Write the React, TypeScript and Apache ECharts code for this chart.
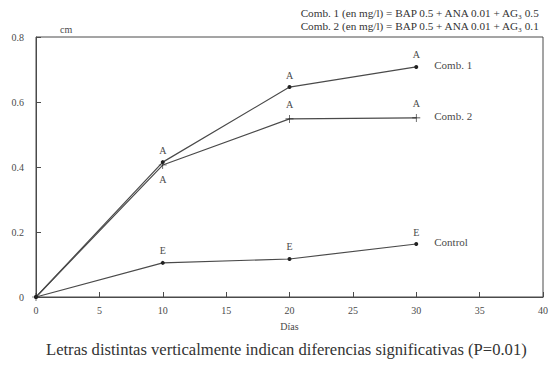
import React, { useEffect, useRef } from "react";
import * as echarts from "echarts";

const days = [0, 10, 20, 30];
const comb1 = [0, 0.415, 0.646, 0.708];
const comb2 = [0, 0.406, 0.548, 0.551];
const control = [0, 0.105, 0.117, 0.163];
const comb1Letters = ["", "A", "A", "A"];
const comb2Letters = ["", "A", "A", "A"];
const controlLetters = ["", "E", "E", "E"];
const seriesNames = ["Comb. 1", "Comb. 2", "Control"];
const xTicks = [0, 5, 10, 15, 20, 25, 30, 35, 40];
const yTicks = [0, 0.2, 0.4, 0.6, 0.8];
const legendLine1 = "Comb. 1 (en mg/l) = BAP 0.5 + ANA 0.01 + AG\u2083 0.5";
const legendLine2 = "Comb. 2 (en mg/l) = BAP 0.5 + ANA 0.01 + AG\u2083 0.1";
const caption = "Letras distintas verticalmente indican diferencias significativas (P=0.01)";

const FONT = "Liberation Serif";
const INK = "#4a4a4a";

function buildData(vals: number[], letters: string[], belowIdx: number[] = []) {
  return days.map((d, i) => ({
    value: [d, vals[i]],
    label: {
      show: letters[i] !== "",
      formatter: letters[i],
      position: belowIdx.includes(i) ? "bottom" : "top",
      distance: 5,
      fontFamily: FONT,
      fontSize: 10,
      color: INK,
    },
  }));
}

export default function App() {
  const ref = useRef<HTMLDivElement>(null);
  useEffect(() => {
    if (!ref.current) return;
    const chart = echarts.init(ref.current, undefined, { renderer: "svg" });
    const plus = "path://M-0.4,-5h0.8v4.6h4.6v0.8h-4.6v4.6h-0.8v-4.6h-4.6v-0.8h4.6z";
    const mk = (name: string, vals: number[], letters: string[], symbol: string, size: number, below: number[] = []) => ({
      type: "line",
      name,
      data: buildData(vals, letters, below),
      symbol,
      symbolSize: size,
      showSymbol: true,
      lineStyle: { color: INK, width: 1.2 },
      itemStyle: { color: "#222" },
      endLabel: {
        show: true,
        formatter: name,
        distance: 18,
        fontFamily: FONT,
        fontSize: 11,
        color: INK,
        offset: [0, -2],
      },
    });
    chart.setOption({
      animation: false,
      backgroundColor: "#fff",
      textStyle: { fontFamily: FONT },
      grid: {
        left: 36,
        right: 12,
        top: 37,
        bottom: 69,
        show: true,
        borderColor: INK,
        borderWidth: 1,
        backgroundColor: "transparent",
      },
      xAxis: {
        type: "value",
        min: xTicks[0],
        max: xTicks[xTicks.length - 1],
        interval: 5,
        name: "Días",
        nameLocation: "middle",
        nameGap: 24,
        nameTextStyle: { fontFamily: FONT, fontSize: 10, color: INK },
        axisLine: { lineStyle: { color: INK, width: 1 } },
        axisTick: { inside: true, length: 5, lineStyle: { color: INK } },
        axisLabel: { fontFamily: FONT, fontSize: 10, color: INK, margin: 8 },
        splitLine: { show: false },
      },
      yAxis: {
        type: "value",
        min: yTicks[0],
        max: yTicks[yTicks.length - 1],
        interval: 0.2,
        name: "cm",
        nameLocation: "end",
        nameGap: 3,
        nameTextStyle: { fontFamily: FONT, fontSize: 10, color: INK, align: "left", padding: [0, 0, 0, 24] },
        axisLine: { lineStyle: { color: INK, width: 1 } },
        axisTick: { inside: true, length: 5, lineStyle: { color: INK } },
        axisLabel: {
          fontFamily: FONT,
          fontSize: 10,
          color: INK,
          margin: 12,
          formatter: (v: number) => (v === 0 ? "0" : v.toFixed(1)),
        },
        splitLine: { show: false },
      },
      series: [
        mk(seriesNames[0], comb1, comb1Letters, "circle", 4),
        mk(seriesNames[1], comb2, comb2Letters, plus, 8, [1]),
        mk(seriesNames[2], control, controlLetters, "circle", 4),
      ],
      graphic: [
        {
          type: "text",
          right: 14,
          top: 7,
          style: {
            text: legendLine1 + "\n" + legendLine2,
            fontFamily: FONT,
            fontSize: 11.2,
            lineHeight: 12.5,
            fill: "#333",
            align: "right",
          },
        },
        {
          type: "text",
          left: 46,
          top: 341,
          style: {
            text: caption,
            fontFamily: FONT,
            fontSize: 16.6,
            fill: "#333",
          },
        },
      ],
    });
    return () => chart.dispose();
  }, []);
  return <div ref={ref} style={{ width: 555, height: 366, position: "absolute", left: 0, top: 0 }} />;
}
